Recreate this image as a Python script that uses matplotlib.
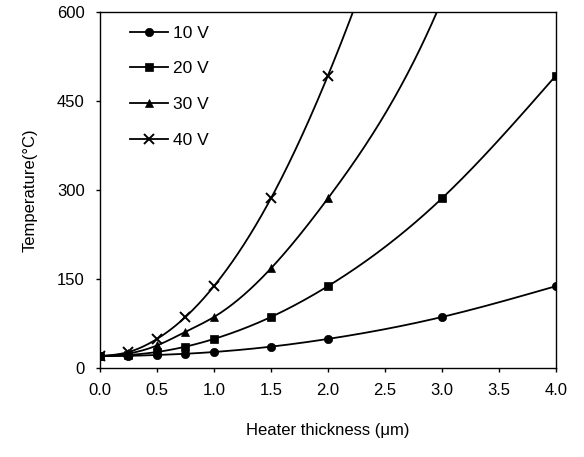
import numpy as np
import matplotlib
matplotlib.use("Agg")
import matplotlib.pyplot as plt

plt.rcParams['font.family'] = ['Liberation Sans', 'DejaVu Sans']

thickness = [0.0, 0.25, 0.5, 0.75, 1.0, 1.5, 2.0, 3.0, 4.0]
temp_10v = [20, 20.5, 22, 24, 27, 36, 49, 86, 138]
temp_20v = [20, 22, 27, 36, 49, 86, 138, 286, 493]
temp_30v = [20, 24.5, 38, 61, 86, 168, 286, 620, 1190]
temp_40v = [20, 27, 49, 86, 138, 286, 493, 1076, 1900]
labels = ["10 V", "20 V", "30 V", "40 V"]
markers = ["o", "s", "^", "x"]


def smooth(x, y, n=400):
    # natural cubic spline through the points, only for drawing the line
    x = np.asarray(x, float)
    y = np.asarray(y, float)
    k = len(x)
    h = np.diff(x)
    A = np.zeros((k, k))
    r = np.zeros(k)
    A[0, 0] = A[-1, -1] = 1
    for i in range(1, k - 1):
        A[i, i - 1] = h[i - 1]
        A[i, i] = 2 * (h[i - 1] + h[i])
        A[i, i + 1] = h[i]
        r[i] = 6 * ((y[i + 1] - y[i]) / h[i] - (y[i] - y[i - 1]) / h[i - 1])
    M = np.linalg.solve(A, r)
    xs = np.linspace(x[0], x[-1], n)
    j = np.clip(np.searchsorted(x, xs) - 1, 0, k - 2)
    a = x[j + 1] - xs
    b = xs - x[j]
    hj = h[j]
    ys = (M[j] * a ** 3 / (6 * hj) + M[j + 1] * b ** 3 / (6 * hj)
          + (y[j] / hj - M[j] * hj / 6) * a + (y[j + 1] / hj - M[j + 1] * hj / 6) * b)
    return xs, ys


fig = plt.figure(figsize=(5.84, 4.57), dpi=100)
ax = fig.add_axes([0.1712, 0.1947, 0.7808, 0.779])

for series, lab, mk in zip([temp_10v, temp_20v, temp_30v, temp_40v], labels, markers):
    sx, sy = smooth(thickness, series)
    ax.plot(sx, sy, color="black", lw=1.3)
    mew = 1.4 if mk == "x" else 0.5
    ms = 6.5 if mk == "x" else 6
    ax.plot(thickness, series, linestyle="none", marker=mk, color="black",
            markersize=ms, markeredgewidth=mew)
    ax.plot([], [], color="black", lw=1.3, marker=mk, markersize=ms,
            markeredgewidth=mew, label=lab)

ax.set_xlim(0, 4)
ax.set_ylim(0, 600)
ax.set_xticks(np.arange(0, 4.01, 0.5))
ax.set_xticklabels([f"{v:.1f}" for v in np.arange(0, 4.01, 0.5)])
ax.set_yticks([0, 150, 300, 450, 600])
ax.tick_params(direction="out", length=3, labelsize=12, width=1, pad=8)
for s in ax.spines.values():
    s.set_linewidth(1)

ax.set_xlabel("Heater thickness (\u03bcm)", fontsize=12, labelpad=18)
ax.set_ylabel("Temperature(\u00b0C)", fontsize=12, labelpad=14)

ax.legend(loc="upper left", bbox_to_anchor=(0.066, 0.962), frameon=False,
          fontsize=12.5, handlelength=2.2, labelspacing=1.18, handletextpad=0.3,
          borderpad=0, borderaxespad=0)

fig.savefig("out.png", dpi=100)
